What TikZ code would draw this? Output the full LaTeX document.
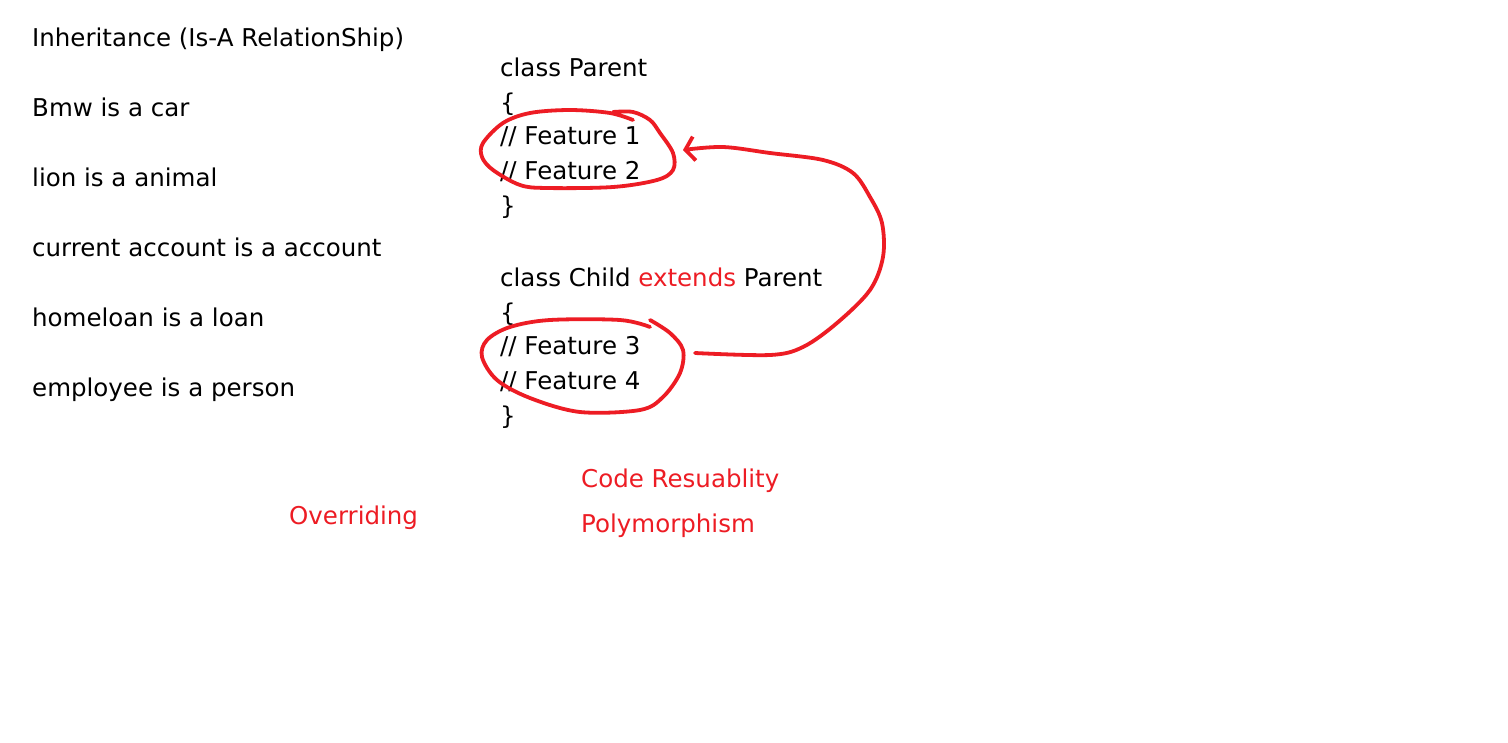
\documentclass[tikz,border=0pt]{standalone}
\usepackage{fontspec}
\setmainfont{DejaVu Sans}
\usepackage{xcolor}
\usetikzlibrary{arrows.meta,positioning}
\definecolor{penred}{RGB}{237,28,36}
\tikzset{%
	note/.style  = {anchor=base west, inner sep=0pt, font=\fontsize{24.5}{28}\selectfont},
	code/.style  = {note},
	remark/.style= {note, text=penred},
	pen/.style   = {draw=penred, line width=3.8pt, line cap=round, line join=round},
}

\begin{document}
\begin{tikzpicture}[x=1pt,y=-1pt]
	\useasboundingbox[fill=white] (0,0) rectangle (1508,742);
	
	\node[note] (title) at (32,46) {Inheritance (Is-A RelationShip)};
	\foreach \txt [count=\i] in {Bmw is a car,lion is a animal,current account is a account,homeloan is a loan,employee is a person}
		\node[note] (isa\i) at (32,{46+70*\i}) {\txt};
	
	\node[code] (parent) at (500,76) {class Parent};
	\node[code] (popen) at (500,111) {\{};
	\node[code] (f1) at (500,144) {// Feature 1};
	\node[code] (f2) at (500,179) {// Feature 2};
	\node[code] (pclose) at (500,214) {\}};
	
	\node[code] (child) at (500,286) {class Child \textcolor{penred}{extends} Parent};
	\node[code] (copen) at (500,321) {\{};
	\node[code] (f3) at (500,354) {// Feature 3};
	\node[code] (f4) at (500,389) {// Feature 4};
	\node[code] (cclose) at (500,424) {\}};
	
	\node[remark] (reuse) at (581,487) {Code Resuablity};
	\node[remark] (poly) at (581,532) {Polymorphism};
	\node[remark] (over) at (289,524) {Overriding};
	
	% hand drawn rings
	\draw[pen] plot[smooth,tension=0.55] coordinates {(633,120) (610,113) (570,110) (530,113) (503,123) (483,143) (482,157) (493,170) (520,185) (547,188) (613,187) (657,180) (673,170) (673,153) (660,133) (650,120) (633,112) (613,112)};
	\draw[pen] plot[smooth,tension=0.55] coordinates {(650,320) (670,333) (683,350) (680,373) (663,397) (640,410) (580,412) (530,398) (497,380) (482,357) (487,340) (510,327) (550,320) (620,320) (650,327)};
	
	\coordinate (from) at (695,353);
	\coordinate (to) at (683,150);
	\draw[pen,-{Straight Barb[length=9pt,width=24pt,line width=3.8pt]}] plot[smooth,tension=0.55] coordinates {(from) (770,355) (803,347) (837,323) (870,290) (883,257) (882,223) (870,197) (853,173) (823,160) (770,153) (723,147) (to)};
\end{tikzpicture}
\end{document}
